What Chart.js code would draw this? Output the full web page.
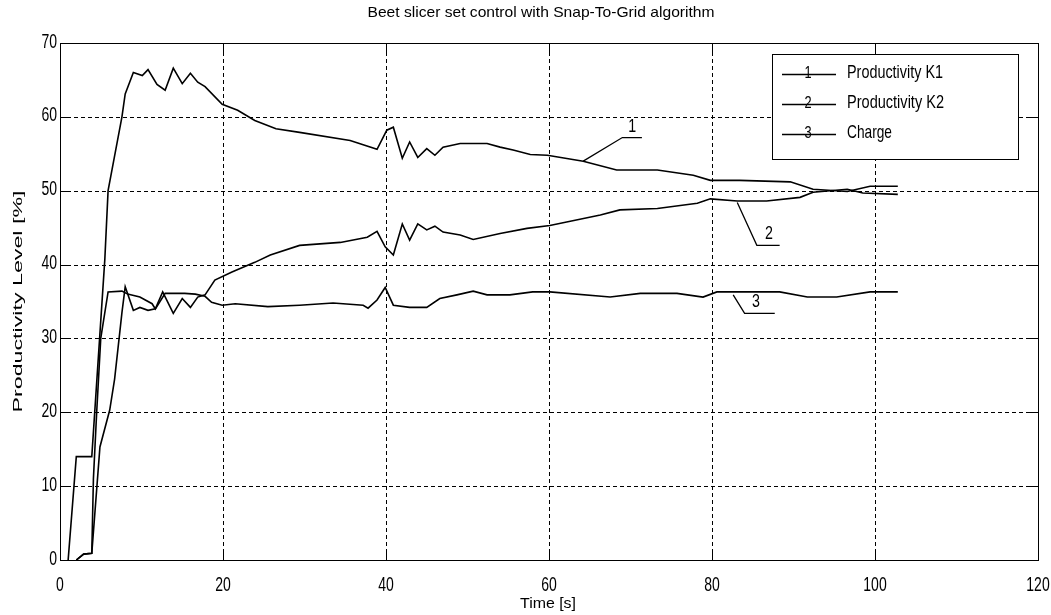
<!DOCTYPE html>
<html>
<head>
<meta charset="utf-8">
<script src="https://cdn.jsdelivr.net/npm/chart.js@4"></script>
<style>
  html, body { margin: 0; padding: 0; background: #fff; }
  #wrap { width: 1051px; height: 615px; }
</style>
</head>
<body>
<div id="wrap"><canvas id="chart" width="1051" height="615"></canvas></div>
<script>
// values
const titleText = "Beet slicer set control with Snap-To-Grid algorithm";
const xTitle = "Time [s]";
const yTitle = "Productivity Level [%]";
const seriesNames = ["Productivity K1", "Productivity K2", "Charge"];
const xTicks = [0, 20, 40, 60, 80, 100, 120];
const yTicks = [0, 10, 20, 30, 40, 50, 60, 70];

const k1X = [1.0, 2.0, 3.9, 5.5, 5.9, 7.6, 8.0, 9.0, 10.1, 10.8, 11.9, 12.9, 13.9, 15.0, 16.0, 16.9, 17.8, 19.9, 21.8, 23.9, 26.5, 29.4, 35.6, 38.9, 40.1, 40.9, 42.0, 42.9, 43.9, 45.0, 46.0, 47.0, 49.1, 52.4, 54.0, 55.6, 57.7, 59.8, 64.2, 68.3, 73.3, 77.7, 79.8, 83.4, 89.6, 92.4, 96.6, 99.4, 102.8];
const k1Y = [0, 14, 14, 40.7, 50, 60, 63.1, 66, 65.6, 66.4, 64.4, 63.6, 66.6, 64.5, 65.9, 64.7, 64.1, 61.7, 60.9, 59.5, 58.4, 57.9, 56.8, 55.6, 58.2, 58.6, 54.4, 56.6, 54.5, 55.7, 54.8, 55.9, 56.4, 56.4, 55.9, 55.5, 54.9, 54.8, 54.0, 52.8, 52.8, 52.1, 51.4, 51.4, 51.2, 50.2, 49.9, 50.6, 50.6];

const k2X = [2.0, 2.9, 3.9, 4.9, 6.1, 6.7, 7.6, 8.0, 9.0, 9.8, 10.8, 11.7, 12.6, 13.9, 15.0, 16.0, 16.9, 17.8, 19.0, 21.1, 23.9, 25.8, 29.4, 34.4, 37.7, 38.9, 39.9, 40.9, 42.0, 42.9, 43.9, 45.0, 46.0, 47.0, 49.1, 50.7, 54.0, 57.3, 60.1, 66.3, 68.7, 73.3, 78.2, 79.8, 83.1, 86.7, 90.8, 92.4, 96.6, 98.5, 102.8];
const k2Y = [0, 0.8, 0.9, 15.3, 20.3, 24.5, 33.5, 37, 33.8, 34.2, 33.8, 34.0, 36.3, 33.4, 35.4, 34.2, 35.6, 35.9, 37.9, 39.0, 40.3, 41.3, 42.6, 43.0, 43.7, 44.5, 42.4, 41.3, 45.5, 43.3, 45.5, 44.7, 45.2, 44.4, 44.0, 43.4, 44.2, 44.9, 45.3, 46.7, 47.4, 47.6, 48.3, 48.9, 48.6, 48.6, 49.1, 49.8, 50.2, 49.7, 49.5];

const chargeX = [2.0, 2.9, 3.9, 4.1, 4.5, 5.0, 5.9, 7.6, 8.3, 9.8, 11.3, 11.7, 12.9, 14.1, 15.3, 16.6, 17.8, 18.6, 19.9, 21.5, 25.5, 29.4, 33.5, 37.2, 37.8, 38.9, 39.9, 40.9, 42.9, 45.0, 46.6, 48.7, 50.7, 52.4, 55.2, 58.0, 60.1, 67.5, 71.2, 75.7, 78.9, 80.6, 84.7, 88.3, 91.7, 95.3, 99.4, 102.8];
const chargeY = [0, 0.8, 0.9, 11, 20, 30, 36.3, 36.4, 36.0, 35.6, 34.7, 34.0, 36.1, 36.1, 36.1, 36.0, 35.7, 34.9, 34.5, 34.7, 34.3, 34.5, 34.8, 34.5, 34.1, 35.2, 36.9, 34.5, 34.2, 34.2, 35.4, 35.9, 36.4, 35.9, 35.9, 36.3, 36.3, 35.6, 36.1, 36.1, 35.6, 36.3, 36.3, 36.3, 35.6, 35.6, 36.3, 36.3];

// callout leaders: [x0,y0, x1,y1, x2,y2] in data units, and label position
const calloutLines = [
  [64.2, 54.0, 69.0, 57.2, 71.4, 57.2],
  [83.1, 48.4, 85.5, 42.6, 88.3, 42.6],
  [82.6, 35.9, 84.0, 33.4, 87.7, 33.4]
];
const calloutText = [
  { t: "1", x: 70.2, y: 57.5 },
  { t: "2", x: 87.0, y: 42.9 },
  { t: "3", x: 85.4, y: 33.7 }
];

const FONT = "'Liberation Sans', Arial, sans-serif";

function toPoints(xs, ys) {
  return xs.map((x, i) => ({ x: x, y: ys[i] }));
}

// condensed text: horizontally squeezed glyphs like the old raster font
function narrowText(c, text, x, y, size, sx, align) {
  c.save();
  c.font = size + "px " + FONT;
  const w = c.measureText(text).width * sx;
  let left = x;
  if (align === "center") left = x - w / 2;
  else if (align === "right") left = x - w;
  c.translate(left, y);
  c.scale(sx, 1);
  c.textAlign = "left";
  c.textBaseline = "middle";
  c.fillText(text, 0, 0);
  c.restore();
}

function fitText(c, text, x, y, size, width) {
  c.save();
  c.font = size + "px " + FONT;
  const sx = width / c.measureText(text).width;
  c.restore();
  narrowText(c, text, x, y, size, sx, "center");
}

const matlabFrame = {
  id: "matlabFrame",
  beforeDatasetsDraw(chart) {
    const c = chart.ctx;
    const a = chart.chartArea;
    const xs = chart.scales.x, ys = chart.scales.y;
    c.save();
    c.strokeStyle = "#000";
    c.lineWidth = 1;
    c.setLineDash([4, 3]);
    c.beginPath();
    yTicks.forEach((v) => {
      const y = Math.round(ys.getPixelForValue(v)) + 0.5;
      c.moveTo(a.left, y); c.lineTo(a.right, y);
    });
    xTicks.forEach((v) => {
      const x = Math.round(xs.getPixelForValue(v)) + 0.5;
      c.moveTo(x, a.bottom); c.lineTo(x, a.top);
    });
    c.stroke();
    c.restore();
  },
  afterDraw(chart) {
    const c = chart.ctx;
    const a = chart.chartArea;
    const xs = chart.scales.x, ys = chart.scales.y;
    c.save();
    c.strokeStyle = "#000";
    c.fillStyle = "#000";
    c.lineWidth = 1;
    c.setLineDash([]);
    // box
    c.strokeRect(Math.round(a.left) + 0.5, Math.round(a.top) + 0.5,
      Math.round(a.right - a.left), Math.round(a.bottom - a.top));
    // inward ticks
    c.beginPath();
    yTicks.forEach((v) => {
      const y = Math.round(ys.getPixelForValue(v)) + 0.5;
      c.moveTo(a.left, y); c.lineTo(a.left + 9, y);
      c.moveTo(a.right, y); c.lineTo(a.right - 9, y);
    });
    xTicks.forEach((v) => {
      const x = Math.round(xs.getPixelForValue(v)) + 0.5;
      c.moveTo(x, a.bottom); c.lineTo(x, a.bottom - 9);
      c.moveTo(x, a.top); c.lineTo(x, a.top + 9);
    });
    c.stroke();

    // tick labels
    yTicks.forEach((v) => {
      narrowText(c, String(v), a.left - 3, ys.getPixelForValue(v) - 1, 20, 0.7, "right");
    });
    xTicks.forEach((v) => {
      narrowText(c, String(v), xs.getPixelForValue(v), a.bottom + 25, 20, 0.7, "center");
    });

    // axis titles and chart title
    fitText(c, titleText, (a.left + a.right) / 2 - 8, 13, 15, 347);
    fitText(c, xTitle, 548, 604, 15, 56);
    c.save();
    c.translate(18, (a.top + a.bottom) / 2);
    c.rotate(-Math.PI / 2);
    fitText(c, yTitle, 0, 0, 13, 222);
    c.restore();

    // callouts
    c.lineWidth = 1.3;
    c.beginPath();
    calloutLines.forEach((p) => {
      c.moveTo(xs.getPixelForValue(p[0]), ys.getPixelForValue(p[1]));
      c.lineTo(xs.getPixelForValue(p[2]), ys.getPixelForValue(p[3]));
      c.lineTo(xs.getPixelForValue(p[4]), ys.getPixelForValue(p[5]));
    });
    c.stroke();
    calloutText.forEach((o) => {
      narrowText(c, o.t, xs.getPixelForValue(o.x), ys.getPixelForValue(o.y) - 9, 19, 0.75, "center");
    });

    // legend box
    const lx = 772, ly = 54, lw = 246, lh = 105;
    c.fillStyle = "#fff";
    c.fillRect(lx, ly, lw, lh);
    c.lineWidth = 1;
    c.strokeRect(lx + 0.5, ly + 0.5, lw, lh);
    c.fillStyle = "#000";
    const rows = [74, 104, 134];
    const widths = [96, 97, 45];
    seriesNames.forEach((name, i) => {
      const y = rows[i];
      c.lineWidth = 1.4;
      c.beginPath();
      c.moveTo(782, y + 0.5); c.lineTo(836, y + 0.5);
      c.stroke();
      narrowText(c, String(i + 1), 808, y - 1, 17, 0.75, "center");
      c.save();
      c.font = "19px " + FONT;
      const sx = widths[i] / c.measureText(name).width;
      c.restore();
      narrowText(c, name, 847, y - 1, 19, sx, "left");
    });
    c.restore();
  }
};

const lineStyle = {
  borderColor: "#000",
  borderWidth: 1.6,
  pointRadius: 0,
  tension: 0,
  fill: false
};

new Chart(document.getElementById("chart"), {
  type: "line",
  data: {
    datasets: [
      Object.assign({ label: seriesNames[0], data: toPoints(k1X, k1Y) }, lineStyle),
      Object.assign({ label: seriesNames[1], data: toPoints(k2X, k2Y) }, lineStyle),
      Object.assign({ label: seriesNames[2], data: toPoints(chargeX, chargeY) }, lineStyle)
    ]
  },
  options: {
    responsive: false,
    animation: false,
    layout: { padding: { top: 43, right: 13, left: 0, bottom: 0 } },
    plugins: {
      legend: { display: false },
      tooltip: { enabled: false },
      title: { display: false }
    },
    scales: {
      x: {
        type: "linear",
        min: 0,
        max: 120,
        afterBuildTicks: (s) => { s.ticks = xTicks.map((v) => ({ value: v })); },
        afterFit: (s) => { s.height = 55; },
        grid: { display: false },
        border: { display: false },
        ticks: { display: false }
      },
      y: {
        type: "linear",
        min: 0,
        max: 70,
        afterBuildTicks: (s) => { s.ticks = yTicks.map((v) => ({ value: v })); },
        afterFit: (s) => { s.width = 60; },
        grid: { display: false },
        border: { display: false },
        ticks: { display: false }
      }
    }
  },
  plugins: [matlabFrame]
});
</script>
</body>
</html>
